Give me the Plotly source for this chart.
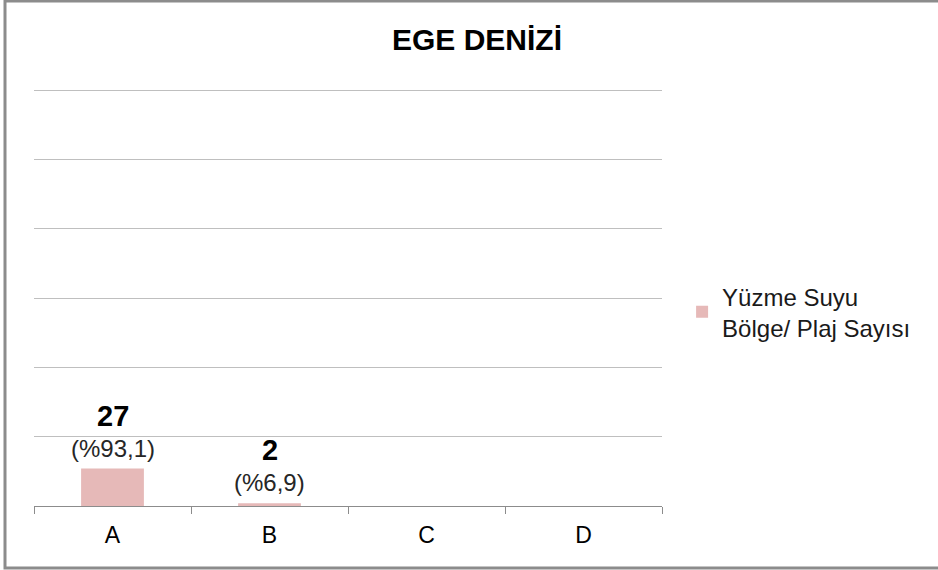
import plotly.graph_objects as go

categories = ["A", "B", "C", "D"]
values = [27, 2, 0, 0]
value_labels = ["27", "2", "", ""]
pct_labels = ["(%93,1)", "(%6,9)", "", ""]
series_name = "Yüzme Suyu<br>Bölge/ Plaj Sayısı"
title_text = "EGE DENİZİ"

FONT = "Liberation Sans, Arial, sans-serif"

fig = go.Figure()
fig.add_trace(go.Bar(
    x=categories, y=values, name=series_name,
    marker=dict(color="#e6b9b8", line=dict(width=0)),
    width=0.4, showlegend=True,
))

for c, v, vl, pl in zip(categories, values, value_labels, pct_labels):
    if not vl:
        continue
    fig.add_annotation(x=c, y=v, text=pl, showarrow=False, yanchor="bottom",
                       yshift=5, font=dict(family=FONT, size=24, color="#262626"))
    fig.add_annotation(x=c, y=v, text="<b>" + vl + "</b>", showarrow=False, yanchor="bottom",
                       yshift=35, font=dict(family=FONT, size=29, color="#000000"))

fig.add_shape(type="rect", xref="paper", yref="paper",
              x0=-29 / 628, x1=1.46, y0=-62 / 420, y1=505 / 420,
              line=dict(color="#8c8c8c", width=3), fillcolor="rgba(0,0,0,0)", layer="below")

fig.update_layout(
    width=938, height=570,
    margin=dict(l=34, r=276, t=86, b=64),
    paper_bgcolor="white", plot_bgcolor="white",
    title=dict(text="<b>" + title_text + "</b>", x=477 / 938, xref="container", xanchor="center",
               y=1 - 39 / 570, yref="container", yanchor="middle",
               font=dict(family=FONT, size=30, color="#000000")),
    legend=dict(x=1.032, y=0.552, xanchor="left", yanchor="top",
                font=dict(family=FONT, size=24, color="#1a1a1a"),
                itemwidth=30, bgcolor="rgba(0,0,0,0)"),
)
fig.update_xaxes(showline=True, linecolor="#8c8c8c", linewidth=1,
                 ticks="outside", tickson="boundaries", ticklen=7, tickcolor="#8c8c8c",
                 tickfont=dict(family=FONT, size=23, color="#000000"),
                 ticklabelstandoff=8,
                 showgrid=False, zeroline=False)
fig.update_yaxes(range=[0, 303], dtick=50, showgrid=True, gridcolor="#bfbfbf", gridwidth=1,
                 showticklabels=False, zeroline=False, showline=False)

fig.write_html("out.html", config={"displayModeBar": False},
               post_script="document.body.style.margin='0';document.body.style.overflow='hidden';")
